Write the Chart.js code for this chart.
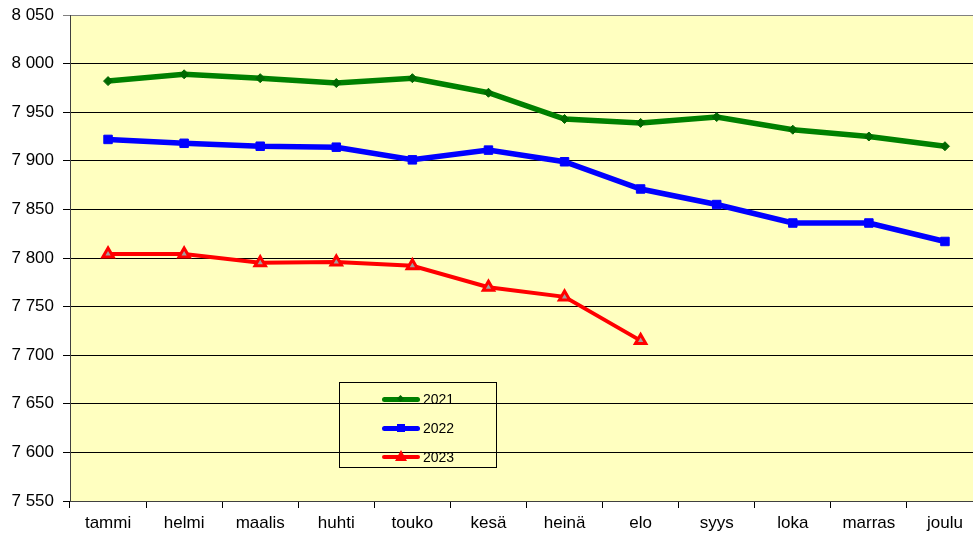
<!DOCTYPE html>
<html>
<head>
<meta charset="utf-8">
<script src="https://cdn.jsdelivr.net/npm/chart.js@4/dist/chart.umd.min.js"></script>
<style>
html{margin:0;padding:0;overflow:hidden;width:973px;height:535px;background:#fff;}
body{margin:0;padding:0;background:#fff;width:1000px;height:535px;}
#wrap{position:relative;width:992px;height:535px;}
canvas{display:block;}
#legend{position:absolute;left:339px;top:382px;width:156px;height:84px;border:1px solid #000;font-family:"Liberation Sans",Arial,sans-serif;font-size:14px;color:#000;}
.item{position:absolute;left:42px;height:20px;}
.sw{position:absolute;left:0;top:8px;width:38px;border-radius:3px;}
.lab{position:absolute;left:41px;top:0;line-height:20px;}
.mk{position:absolute;}
</style>
</head>
<body>
<div id="wrap">
<canvas id="c" width="992" height="535" style="width:992px;height:535px"></canvas>
<div id="legend"></div>
</div>
<script>
const months = ["tammi","helmi","maalis","huhti","touko","kesä","heinä","elo","syys","loka","marras","joulu"];
const seriesNames = ["2021","2022","2023"];
const values2021 = [7982,7989,7985,7980,7985,7970,7943,7939,7945,7932,7925,7915];
const values2022 = [7922,7918,7915,7914,7901,7911,7899,7871,7855,7836,7836,7817];
const values2023 = [7804,7804,7795,7796,7792,7770,7760,7715];
const yTicks = [7550,7600,7650,7700,7750,7800,7850,7900,7950,8000,8050];

const colors = ["#008000","#0000FF","#FF0000"];
const FONT = "'Liberation Sans', Arial, sans-serif";

const bgPlugin = {
  id:'bg',
  beforeDraw(chart){
    const a = chart.chartArea, ctx = chart.ctx;
    ctx.save();
    ctx.fillStyle = '#FFFFC0';
    ctx.fillRect(a.left, a.top, a.right - a.left, a.bottom - a.top);
    ctx.restore();
  }
};

const fmt = v => String(v).replace(/\B(?=(\d{3})+(?!\d))/g, ' ');

new Chart(document.getElementById('c'), {
  type:'line',
  data:{
    labels: months,
    datasets:[
      {label:seriesNames[0], data:values2021, borderColor:colors[0], backgroundColor:colors[0], borderWidth:5.5,
       pointStyle:'rectRot', pointRadius:4.5, pointBackgroundColor:'#006800', pointBorderColor:'#006800', pointBorderWidth:1, tension:0},
      {label:seriesNames[1], data:values2022, borderColor:colors[1], backgroundColor:colors[1], borderWidth:5.5,
       pointStyle:'rect', pointRadius:6, pointBackgroundColor:colors[1], pointBorderColor:colors[1], pointBorderWidth:1, tension:0},
      {label:seriesNames[2], data:values2023, borderColor:colors[2], backgroundColor:colors[2], borderWidth:4,
       pointStyle:'triangle', pointRadius:6, pointBackgroundColor:'#A0A0A0', pointBorderColor:colors[2], pointBorderWidth:3, tension:0}
    ]
  },
  options:{
    responsive:false,
    animation:false,
    devicePixelRatio:1,
    layout:{padding:{top:15,right:9,left:0,bottom:0}},
    plugins:{legend:{display:false}, tooltip:{enabled:false}},
    scales:{
      x:{
        type:'category',
        offset:true,
        grid:{offset:true, drawOnChartArea:false, drawTicks:true, tickLength:7, color:'#000'},
        border:{color:'#404040', width:1},
        ticks:{font:{size:17, family:FONT}, color:'#000', padding:5, maxRotation:0, autoSkip:false},
        afterFit(s){ s.height = 34; }
      },
      y:{
        min:yTicks[0], max:yTicks[yTicks.length-1],
        afterBuildTicks(s){ s.ticks = yTicks.map(v=>({value:v})); },
        ticks:{font:{size:17, family:FONT}, color:'#000', padding:9, callback:(v)=>fmt(v)},
        grid:{color:(c)=> (c.tick && c.tick.value===8050) ? '#808080' : '#000', lineWidth:1, tickLength:7, drawTicks:true},
        border:{color:'#404040', width:1},
        afterFit(s){ s.width = 70; s.paddingTop = 0; s.paddingBottom = 0; }
      }
    }
  },
  plugins:[bgPlugin]
});

// HTML legend built from series names/colors
const legend = document.getElementById('legend');
const tops = [6, 35, 64];
seriesNames.forEach((name,i)=>{
  const it = document.createElement('div');
  it.className='item'; it.style.top = tops[i]+'px';
  const sw = document.createElement('div');
  sw.className='sw'; sw.style.background = colors[i];
  sw.style.height = (i===2?4:5)+'px';
  it.appendChild(sw);
  const mk = document.createElement('div'); mk.className='mk';
  if(i===0){ mk.style.cssText='left:16px;top:7px;width:5px;height:5px;background:#006800;transform:rotate(45deg);'; }
  if(i===1){ mk.style.cssText='left:15px;top:6px;width:8px;height:8px;background:#0000FF;'; }
  if(i===2){ mk.style.cssText='left:13px;top:3px;width:0;height:0;border-left:6px solid transparent;border-right:6px solid transparent;border-bottom:11px solid #FF0000;'; }
  it.appendChild(mk);
  const lab = document.createElement('div'); lab.className='lab'; lab.textContent = name;
  it.appendChild(lab);
  legend.appendChild(it);
});
</script>
</body>
</html>
